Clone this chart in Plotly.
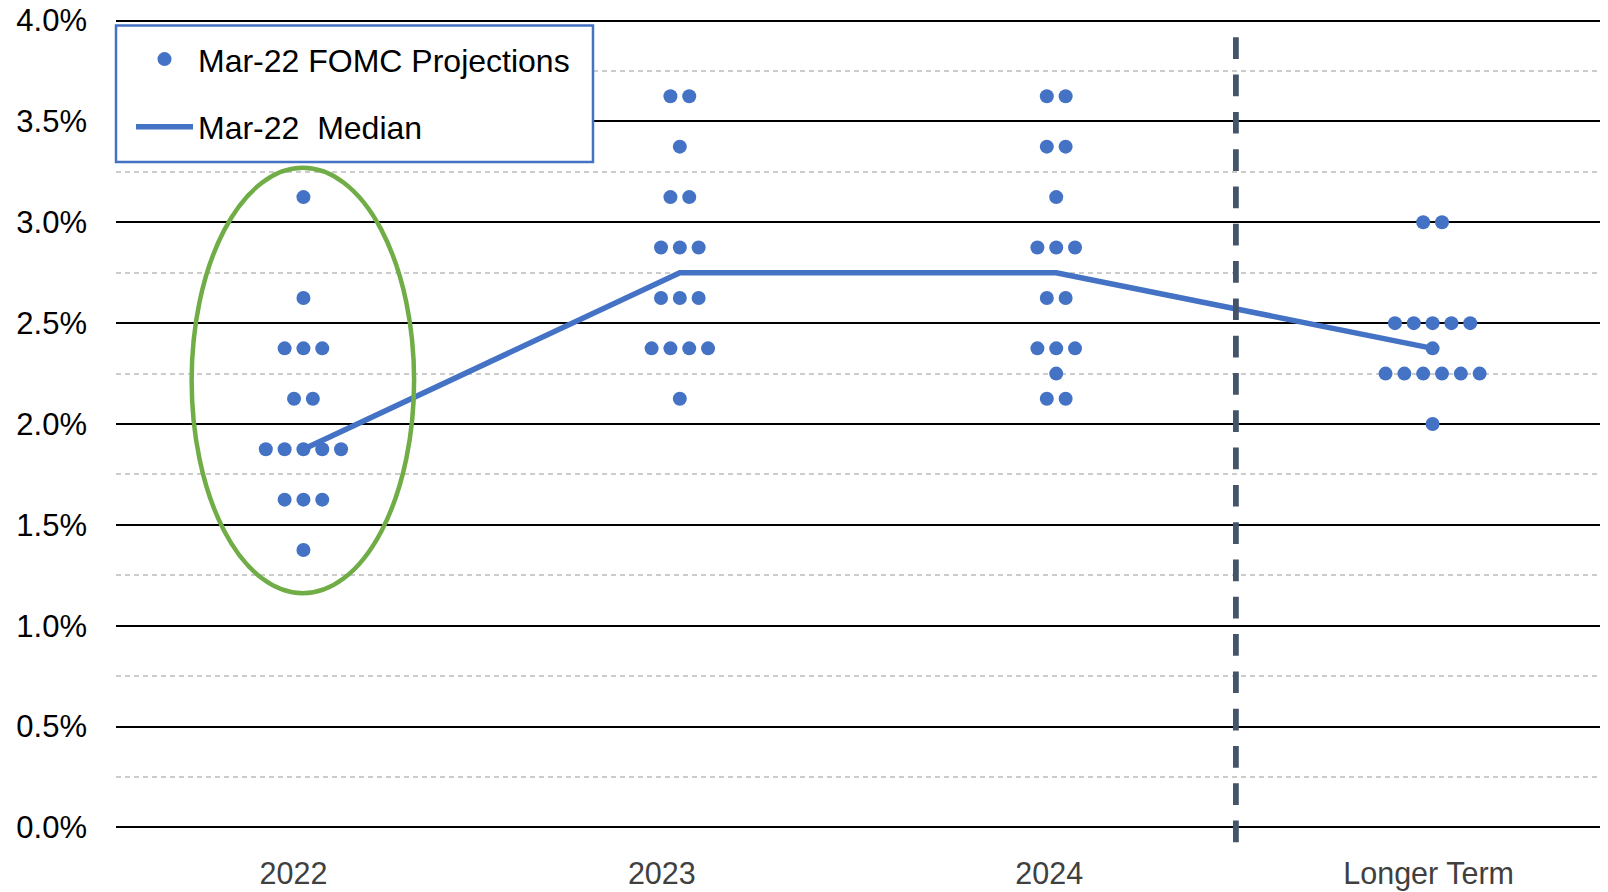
import plotly.graph_objects as go

# ---- data ----
categories = ["2022", "2023", "2024", "Longer Term"]
# (rate %, number of participants) per category
dots_2022 = [(3.125, 1), (2.625, 1), (2.375, 3), (2.125, 2), (1.875, 5), (1.625, 3), (1.375, 1)]
dots_2023 = [(3.625, 2), (3.375, 1), (3.125, 2), (2.875, 3), (2.625, 3), (2.375, 4), (2.125, 1)]
dots_2024 = [(3.625, 2), (3.375, 2), (3.125, 1), (2.875, 3), (2.625, 2), (2.375, 3), (2.25, 1), (2.125, 2)]
dots_longer = [(3.0, 2), (2.5, 5), (2.375, 1), (2.25, 6), (2.0, 1)]
median_values = [1.875, 2.75, 2.75, 2.375]
y_ticks = [0.0, 0.5, 1.0, 1.5, 2.0, 2.5, 3.0, 3.5, 4.0]

BLUE = "#4472C4"
GREEN = "#70AD47"
SLATE = "#44546A"
FONT = "Liberation Sans, Arial, sans-serif"
DOT_STEP = 0.05
PX_PER_CAT = 376.4
LABEL_SHIFT_PX = [-10, -18, -7, -4]   # category label nudges, as in the original layout

all_dots = [dots_2022, dots_2023, dots_2024, dots_longer]
xs, ys = [], []
for ci, rows in enumerate(all_dots):
    for rate, n in rows:
        for k in range(n):
            xs.append(ci + (k - (n - 1) / 2) * DOT_STEP)
            ys.append(rate)

fig = go.Figure()
fig.add_trace(go.Scatter(
    x=xs, y=ys, mode="markers", name="Mar-22 FOMC Projections",
    marker=dict(color=BLUE, size=14, line=dict(width=0)),
    legendgroup="a", cliponaxis=False,
))
fig.add_trace(go.Scatter(
    x=list(range(len(categories))), y=median_values, mode="lines",
    name="Mar-22\u00a0 Median", line=dict(color=BLUE, width=5.5),
    legendgroup="b",
))

# legend frame (white box with blue border)
fig.add_shape(type="rect", xref="paper", yref="paper", x0=0.0, x1=0.3197, y0=0.8235, y1=0.9919,
              fillcolor="white", line=dict(color=BLUE, width=2.5), layer="above")
# ellipse around 2022 projections
fig.add_shape(type="circle", xref="x", yref="y", x0=-0.297, x1=0.294, y0=1.161, y1=3.27,
              line=dict(color=GREEN, width=4.5))
# vertical dashed separator
fig.add_shape(type="line", xref="x", yref="paper", x0=2.4774, x1=2.4774, y0=0.9774, y1=-0.0173,
              line=dict(color=SLATE, width=5.8, dash="21.7px,15.6px"))

fig.update_layout(
    width=1600, height=884,
    margin=dict(l=108, r=0, t=11, b=63),
    paper_bgcolor="white", plot_bgcolor="white",
    font=dict(family=FONT, color="#000000"),
    showlegend=True,
    legend=dict(
        x=0.01005, y=0.9842, xanchor="left", yanchor="top",
        bgcolor="rgba(0,0,0,0)", borderwidth=0, itemwidth=57,
        font=dict(size=32, family=FONT, color="#000000"),
        tracegroupgap=23, traceorder="grouped",
    ),
)
fig.update_xaxes(
    range=[-0.498, 3.466],
    tickvals=[i + LABEL_SHIFT_PX[i] / PX_PER_CAT for i in range(len(categories))],
    ticktext=categories,
    showgrid=False, zeroline=False, showline=False, ticks="",
    tickfont=dict(size=30.5, color="#404040", family=FONT), ticklabelstandoff=23,
    ticklabeloverflow="allow", automargin=False,
)
fig.update_yaxes(
    range=[-0.008, 4.008], tickvals=y_ticks, ticktext=[f"{v:.1f}%" for v in y_ticks],
    showgrid=True, gridcolor="#000000", gridwidth=1.6,
    zeroline=True, zerolinecolor="#000000", zerolinewidth=1.6,
    showline=False, ticks="",
    minor=dict(dtick=0.25, tick0=0.25, showgrid=True, gridcolor="#CCCCCC", gridwidth=1.5, griddash="5px,4px"),
    tickfont=dict(size=31, color="#000000", family=FONT), ticklabelstandoff=28,
    ticklabeloverflow="allow", automargin=False,
)

fig.write_html("out.html")
